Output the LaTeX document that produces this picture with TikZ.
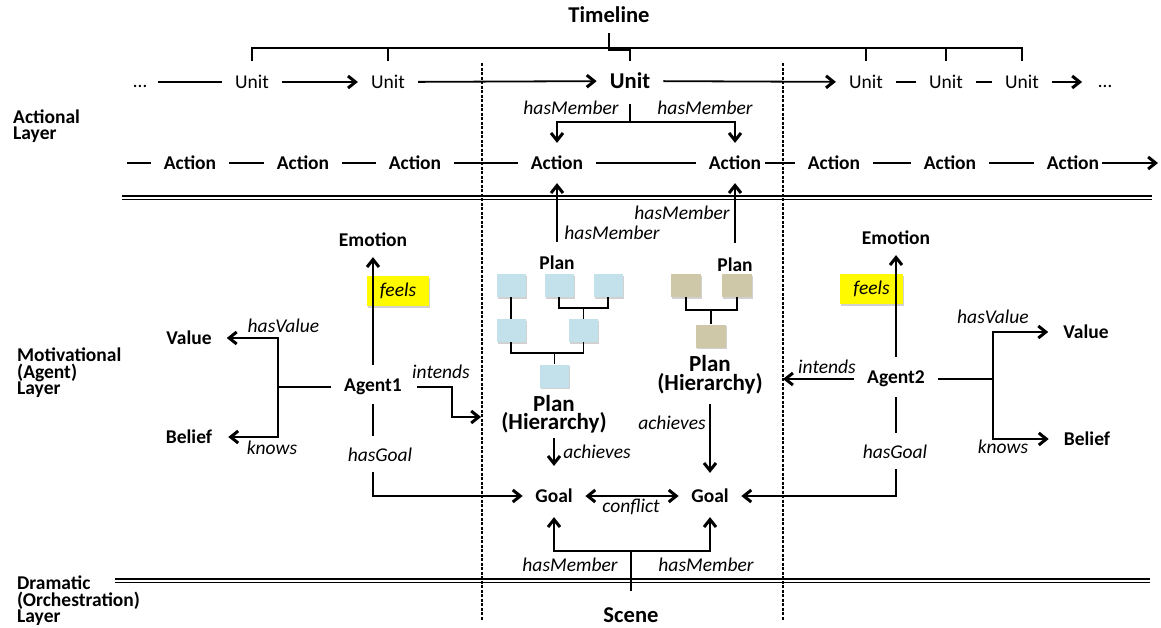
\documentclass[tikz,border=0pt]{standalone}
\usepackage{fontspec}
\setmainfont{Carlito}
\usetikzlibrary{arrows.meta,calc,shadows}
\definecolor{planblue}{RGB}{194,225,235}
\definecolor{plantan}{RGB}{207,200,168}
\definecolor{hiyellow}{RGB}{255,250,0}
\begin{document}
\begin{tikzpicture}[x=1pt,y=-1pt,
  tip/.tip={Straight Barb[length=7.5pt,width=12pt,line width=3pt]},
  conn/.style={line width=1.8pt},
  arr/.style={conn,-tip},
  biarr/.style={conn,tip-tip},
  lbl/.style={font=\fontsize{19.5}{19.5}\selectfont\itshape,inner sep=0pt},
  bf/.style={font=\fontsize{19.5}{19.5}\selectfont\bfseries,inner sep=0pt},
  big/.style={font=\fontsize{22.6}{22.6}\selectfont\bfseries,inner sep=0pt},
  unitn/.style={font=\fontsize{19.5}{19.5}\selectfont,inner xsep=13pt,inner ysep=0pt},
  dots/.style={font=\fontsize{19.5}{19.5}\selectfont,inner sep=0pt},
  act/.style={bf,inner xsep=13pt,inner ysep=13pt},
  goaln/.style={bf,inner xsep=12.5pt},
  ph/.style={font=\fontsize{23}{18.5}\selectfont\bfseries,inner sep=0pt,align=center},
  layer/.style={font=\fontsize{19.5}{16.5}\selectfont\bfseries,inner sep=0pt,align=left,anchor=west},
  shad/.style={general shadow={fill=black!18,shadow xshift=1pt,shadow yshift=-1.5pt}},
  pbox/.style={shad,minimum width=29pt,minimum height=23pt,inner sep=0pt,fill=planblue},
  tbox/.style={shad,minimum width=30pt,minimum height=23pt,inner sep=0pt,fill=plantan},
  tree/.style={line width=1.5pt},
  sep/.style={line width=1.3pt},
  dashline/.style={line width=1.1pt,dash pattern=on 3pt off 1.5pt},
  feelbox/.style={shad,fill=hiyellow,minimum width=62pt,minimum height=30pt,inner sep=0pt,font=\fontsize{19.5}{19.5}\selectfont\itshape}
]
\fill[white] (0,0) rectangle (1161,627);
\useasboundingbox (0,0) rectangle (1161,627);

% ---------- separators ----------
\draw[sep] (122,196) -- (1152,196);
\draw[sep] (122,199.5) -- (1152,199.5);
\draw[sep] (115,579) -- (1150,579);
\draw[sep] (115,582.5) -- (1150,582.5);
\draw[dashline] (482,63) -- (482,620);
\draw[dashline] (783,63) -- (783,620);

% ---------- layer labels ----------
\node[layer] (l1) at (13,126) {Actional\\Layer};
\node[layer] (l2) at (17,373) {Motivational\\(Agent)\\Layer};
\node[layer] (l3) at (17,601) {Dramatic\\(Orchestration)\\Layer};

% ---------- timeline ----------
\node[big] (tl) at (609,15) {Timeline};
\node[dots] (dl) at (140,86) {…};
\node[unitn] (u1) at (252,82) {Unit};
\node[unitn] (u2) at (388,82) {Unit};
\node[big,inner xsep=13pt] (u3) at (630,81) {Unit};
\node[unitn] (u4) at (866,82) {Unit};
\node[unitn] (u5) at (946,82) {Unit};
\node[unitn] (u6) at (1022,82) {Unit};
\node[dots] (dr) at (1105,86) {…};

\coordinate (brk) at (609,48);
\draw[conn] ([yshift=14pt]u1.north) -- (u1 |- brk) -- (u6 |- brk) -- ([yshift=14pt]u6.north);
\draw[conn] ([yshift=14pt]u2.north) -- (u2 |- brk);
\draw[conn] ([yshift=14pt]u4.north) -- (u4 |- brk);
\draw[conn] ([yshift=14pt]u5.north) -- (u5 |- brk);
\draw[conn] ([yshift=-10pt]tl.south) -- ++(0,17) -| ([yshift=12pt]u3.north);

\draw[conn] ($(dl.east |- u1.west)+(11,0)$) -- (u1.west);
\draw[arr] (u1) -- (u2);
\draw[arr] (u2) -- (u3);
\draw[arr] (u3) -- (u4);
\draw[conn] (u4) -- (u5);
\draw[conn] (u5) -- (u6);
\draw[arr] (u6.east) -- ($(dr.west |- u6.east)+(-16,0)$);

% ---------- actions ----------
\node[act] (a1) at (190,163) {Action};
\node[act] (a2) at (303,163) {Action};
\node[act] (a3) at (415,163) {Action};
\node[act] (a4) at (557,163) {Action};
\node[act] (a5) at (735,163) {Action};
\node[act] (a6) at (834,163) {Action};
\node[act] (a7) at (950,163) {Action};
\node[act] (a8) at (1073,163) {Action};
\coordinate (astart) at (127,163);
\coordinate (aend) at (1158,163);
\draw[conn] (astart) -- (a1.west);
\draw[conn] (a1) -- (a2);
\draw[conn] (a2) -- (a3);
\draw[conn] (a3) -- (a4);
\draw[conn] (a4) -- (a5);
\draw[conn] ([xshift=-9pt]a5.east) -- (a6.west);
\draw[conn] (a6) -- (a7);
\draw[conn] (a7) -- (a8);
\draw[arr] ([xshift=-10pt]a8.east) -- (aend);

\draw[conn] ([yshift=-15pt]u3.south) -- ++(0,18) coordinate (umj);
\draw[arr] (umj) -| (a4.north);
\draw[arr] (umj) -| (a5.north);
\node[lbl] (hm1) at (571,108) {hasMember};
\node[lbl] (hm2) at (705,108) {hasMember};

% ---------- plans ----------
\node[bf] (pl1) at (557,263) {Plan};
\node[bf] (pr1) at (735,265) {Plan};
\draw[arr] ([yshift=14pt]pl1.north) -- (a4.south);
\draw[arr] ([yshift=15pt]pr1.north) -- (a5.south);
\node[lbl] (hm3) at (612,233) {hasMember};
\node[lbl] (hm4) at (682,213) {hasMember};

\node[pbox] (b1) at (511,285.5) {};
\node[pbox] (b2) at (559,285.5) {};
\node[pbox] (b3) at (608,285.5) {};
\node[pbox] (b4) at (511,330.5) {};
\node[pbox] (b5) at (583.5,330.5) {};
\node[pbox] (b6) at (554.5,376) {};
\coordinate (j1) at (583.5,308);
\coordinate (j2) at (554.5,353);
\draw[tree] (b1.south) -- (b4.north);
\draw[tree] (b2.south) |- (j1) -| (b3.south);
\draw[tree] (j1) -- (b5.north);
\draw[tree] (b4.south) |- (j2) -| (b5.south);
\draw[tree] (j2) -- (b6.north);

\node[tbox] (t1) at (686,285.5) {};
\node[tbox] (t2) at (737,285.5) {};
\node[tbox] (t3) at (711,336) {};
\coordinate (j3) at (711,310);
\draw[tree] (t1.south) |- (j3) -| (t2.south);
\draw[tree] (j3) -- (t3.north);

\node[ph] (ph1) at (554,414) {Plan\\(Hierarchy)};
\node[ph] (ph2) at (710,374.5) {Plan\\(Hierarchy)};

% ---------- goals ----------
\node[goaln] (g1) at (554,496) {Goal};
\node[goaln] (g2) at (710,496) {Goal};
\draw[biarr] (g1) -- (g2);
\node[lbl] (cf) at (631,507) {conflict};
\draw[arr] ([yshift=-5pt]ph1.south) -- ([yshift=23pt]g1.north);
\draw[arr] ([yshift=-10pt]ph2.south) -- ([yshift=16pt]g2.north);
\node[lbl] (ac1) at (597,452) {achieves};
\node[lbl] (ac2) at (672,423) {achieves};

% ---------- scene ----------
\node[big] (sc) at (631,615) {Scene};
\draw[conn] ([yshift=16pt]sc.north) -- ++(0,-40) coordinate (sj);
\draw[arr] (sj) -| ([yshift=-14pt]g1.south);
\draw[arr] (sj) -| ([yshift=-14pt]g2.south);
\node[lbl] (hm5) at (570,565) {hasMember};
\node[lbl] (hm6) at (706,565) {hasMember};

% ---------- agent 1 ----------
\node[bf] (ag1) at (373,387) {Agent1};
\node[bf] (em1) at (373,240) {Emotion};
\node[feelbox] (fb1) at (398,291) {feels};
\draw[arr] ([yshift=14pt]ag1.north) -- ([yshift=-10pt]em1.south);
\node[bf] (v1) at (189,338) {Value};
\node[bf] (be1) at (189,437) {Belief};
\coordinate (lj) at (278,387);
\draw[conn] ([xshift=-13pt]ag1.west) -- (lj);
\draw[arr] (lj) |- ([xshift=15pt]v1.east);
\draw[arr] (lj) |- ([xshift=16pt]be1.east);
\node[lbl] (hv1) at (283.5,326) {hasValue};
\node[lbl] (kn1) at (272,448) {knows};
\draw[arr] ([xshift=15pt]ag1.east) -- ++(35,0) |- ([xshift=-20pt,yshift=-3pt]ph1.west);
\node[lbl] (in1) at (441,372) {intends};
\node[lbl] (hg1) at (380,455) {hasGoal};
\draw[conn] ([yshift=-9pt]ag1.south) -- ++(0,32);
\draw[arr] ([yshift=-10pt]hg1.south -| ag1) |- (g1.west);

% ---------- agent 2 ----------
\node[bf] (ag2) at (896,379) {Agent2};
\node[bf] (em2) at (896,238) {Emotion};
\node[feelbox,minimum width=63pt] (fb2) at (871.5,289) {feels};
\draw[arr] ([yshift=14pt]ag2.north) -- ([yshift=-10pt]em2.south);
\node[bf] (v2) at (1086,332) {Value};
\node[bf] (be2) at (1087,439) {Belief};
\coordinate (rj) at (993,379);
\draw[conn] ([xshift=13pt]ag2.east) -- (rj);
\draw[arr] (rj) |- ([xshift=-15pt]v2.west);
\draw[arr] (rj) |- ([xshift=-15pt]be2.west);
\node[lbl] (hv2) at (993,317) {hasValue};
\node[lbl] (kn2) at (1003,447) {knows};
\draw[arr] ([xshift=-13pt]ag2.west) -- ([xshift=-84pt]ag2.west);
\node[lbl] (in2) at (827,367) {intends};
\node[lbl] (hg2) at (895,452) {hasGoal};
\draw[conn] ([yshift=-10pt]ag2.south) -- ++(0,36);
\draw[arr] ([yshift=-10pt]hg2.south -| ag2) |- (g2.east);
\end{tikzpicture}
\end{document}
